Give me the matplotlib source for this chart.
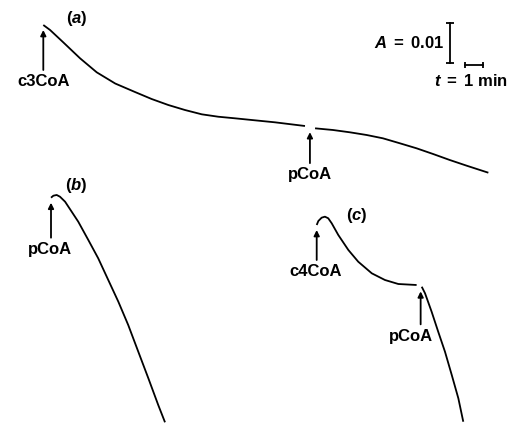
import numpy as np
import matplotlib
matplotlib.use("Agg")
import matplotlib.pyplot as plt

# Recorder traces: time since trace start (min) and change in absorbance
# Trace (a): c3CoA added at start, pCoA added later (small gap in the trace)
a1_t = [0.0, 0.37, 1.09, 2.01, 2.92, 3.93, 5.01, 5.92, 6.83, 7.74, 8.66, 9.56, 10.48, 11.39, 12.66, 14.30]
a1_A = [0.0, -0.00125, -0.00433, -0.00833, -0.01183, -0.01463, -0.01675, -0.0185, -0.0200,
        -0.02125, -0.02233, -0.02293, -0.02333, -0.02375, -0.02433, -0.02525]
a2_t = [14.85, 15.83, 16.76, 17.67, 18.56, 19.49, 20.40, 21.30, 22.21, 23.14, 24.32]
a2_A = [-0.02583, -0.02625, -0.02683, -0.0275, -0.02833, -0.02958, -0.03083, -0.03225,
        -0.03375, -0.03518, -0.03693]

# Trace (b): pCoA only
b_t = [0.0, 0.13, 0.31, 0.49, 0.77, 1.13, 1.49, 2.04, 2.58, 3.13, 3.68, 4.22, 4.77, 5.32, 5.86, 6.23]
b_A = [0.0, 0.0005, 0.00068, 0.00025, -0.0010, -0.0035, -0.0060, -0.01058, -0.01515,
       -0.02058, -0.0260, -0.03183, -0.0385, -0.04515, -0.05183, -0.05615]

# Trace (c): c4CoA first, then pCoA
c1_t = [0.0, 0.09, 0.27, 0.45, 0.63, 0.82, 1.18, 1.73, 2.27, 3.01, 3.73, 4.46, 5.46]
c1_A = [0.0, 0.0010, 0.00183, 0.00208, 0.00168, 0.00043, -0.0025, -0.00625, -0.00918,
        -0.01208, -0.01375, -0.01475, -0.0150]
c2_t = [5.74, 5.92, 6.28, 6.64, 7.01, 7.38, 7.74, 8.01]
c2_A = [-0.01543, -0.01708, -0.02168, -0.02668, -0.03168, -0.0375, -0.04333, -0.04918]

# additions: trace, time of addition (min), what was added
add_trace = ["a", "a", "b", "c", "c"]
add_time = [0.0, 14.57, 0.0, 0.0, 5.68]
add_label = ["c3CoA", "pCoA", "pCoA", "c4CoA", "pCoA"]

# scale bars
bar_A = 0.01
bar_t = 1.0

# ---- layout (not data) ----
PX_MIN = 18.3      # pixels per minute in the picture
PX_A = 4000.0      # pixels per absorbance unit
W, H = 516, 423

def fr(px, py):
    # pixel position in the picture -> frame coordinates
    return px / PX_MIN, -py / PX_A

origins = {"a": fr(43.3, 25.0), "b": fr(51.0, 197.7), "c": fr(316.7, 225.0)}
segments = {"a": [(a1_t, a1_A), (a2_t, a2_A)],
            "b": [(b_t, b_A)],
            "c": [(c1_t, c1_A), (c2_t, c2_A)]}
arrow_len_px = [40, 31, 35, 30, 33]
label_dx_px = [0, 0, -1, -1, -10]
panel_pos = {"a": (76.7, 18.3), "b": (76.7, 185.0), "c": (356.7, 215.0)}

plt.rcParams["font.family"] = ["Liberation Sans", "DejaVu Sans"]
plt.rcParams["font.weight"] = "bold"
plt.rcParams["mathtext.fontset"] = "custom"
plt.rcParams["mathtext.rm"] = "Liberation Sans:bold"
plt.rcParams["mathtext.it"] = "Liberation Sans:italic:bold"

fig = plt.figure(figsize=(W / 100, H / 100), dpi=100)
ax = fig.add_axes([0, 0, 1, 1])
ax.set_xlim(0, W / PX_MIN)
ax.set_ylim(-H / PX_A, 0)
ax.axis("off")

lw = 1.3
fs = 12

# draw the traces
for key in segments:
    x0, y0 = origins[key]
    for t, A in segments[key]:
        ax.plot(x0 + np.array(t), y0 + np.array(A), color="k", lw=lw,
                solid_capstyle="butt", solid_joinstyle="round")

# arrows marking the additions
gap = 5 / PX_A
for i in range(len(add_trace)):
    key = add_trace[i]
    x0, y0 = origins[key]
    all_t = np.concatenate([np.array(s[0]) for s in segments[key]])
    all_A = np.concatenate([np.array(s[1]) for s in segments[key]])
    x = x0 + add_time[i]
    ytip = y0 + np.interp(add_time[i], all_t, all_A) - gap
    ytail = ytip - arrow_len_px[i] / PX_A
    ax.annotate("", xy=(x, ytip), xytext=(x, ytail),
                arrowprops=dict(arrowstyle="-|>", lw=lw, color="k", mutation_scale=8,
                                shrinkA=0, shrinkB=0))
    ax.annotate(add_label[i], xy=(x, ytail), xytext=(label_dx_px[i] * 0.72, -3),
                textcoords="offset points", ha="center", va="top", fontsize=fs)

# panel letters
for key in panel_pos:
    px, py = panel_pos[key]
    ax.text(*fr(px, py), "$(%s)$" % key, ha="center", va="center", fontsize=fs)

# absorbance scale bar
bx, by = fr(450, 23.3)
ax.plot([bx, bx], [by, by - bar_A], color="k", lw=lw)
ax.plot([bx, bx], [by, by - bar_A], ls="none", marker="_", ms=6, mew=lw, color="k")
ax.text(*fr(444, 43), r"$A\;=\;0.01$", ha="right", va="center", fontsize=fs)

# time scale bar
tx, ty = fr(465, 65)
ax.plot([tx, tx + bar_t], [ty, ty], color="k", lw=lw)
ax.plot([tx, tx + bar_t], [ty, ty], ls="none", marker="|", ms=4, mew=lw, color="k")
ax.text(*fr(470.5, 80.5), r"$t\;=\;1$ min", ha="center", va="center", fontsize=fs)

fig.savefig("out.png", dpi=100)
